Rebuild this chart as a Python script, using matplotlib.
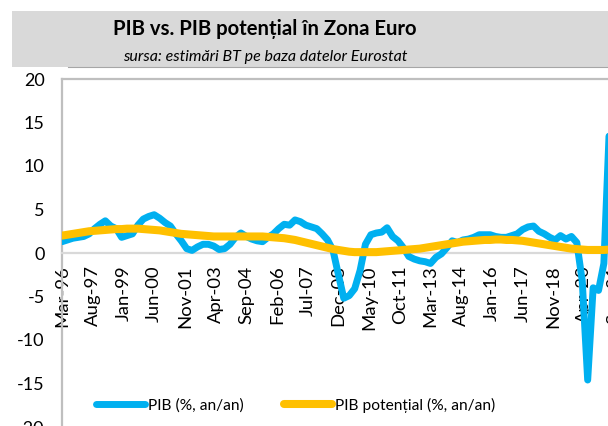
import matplotlib
matplotlib.use('Agg')
import matplotlib.pyplot as plt
import pandas as pd

plt.rcParams['font.family'] = ['Lato', 'DejaVu Sans']

BLUE = '#00B0F0'
GOLD = '#FFC000'

# quarterly, Q1-1996 .. Q2-2021
dates = pd.date_range('1996-03-01', '2021-06-01', freq='3MS')

pib = [1.3, 1.5, 1.7, 1.8,
       1.9, 2.2, 2.8, 3.3,
       3.7, 3.1, 2.8, 1.8,
       2.0, 2.2, 3.2, 3.9,
       4.2, 4.4, 4.0, 3.5,
       3.1, 2.2, 1.4, 0.5,
       0.3, 0.7, 1.0, 1.0,
       0.8, 0.4, 0.5, 1.0,
       1.8, 2.3, 1.9, 1.6,
       1.4, 1.3, 1.8, 2.2,
       2.8, 3.3, 3.2, 3.8,
       3.6, 3.2, 3.0, 2.8,
       2.2, 1.5, 0.3, -2.5,
       -5.2, -4.9, -4.1, -2.0,
       1.0, 2.1, 2.3, 2.4,
       2.9, 1.9, 1.4, 0.6,
       -0.4, -0.7, -0.9, -1.0,
       -1.2, -0.5, -0.1, 0.6,
       1.4, 1.2, 1.5, 1.6,
       1.8, 2.1, 2.1, 2.1,
       1.9, 1.8, 1.8, 2.0,
       2.2, 2.7, 3.0, 3.1,
       2.5, 2.2, 1.8, 1.5,
       2.0, 1.6, 1.9, 1.2,
       -3.2, -14.6, -4.0, -4.3,
       -1.2, 14.4]

pib_pot = [2.0, 2.1, 2.2, 2.3,
           2.4, 2.5, 2.55, 2.6,
           2.65, 2.7, 2.75, 2.75,
           2.8, 2.8, 2.8, 2.75,
           2.7, 2.65, 2.6, 2.5,
           2.4, 2.3, 2.2, 2.15,
           2.1, 2.05, 2.0, 1.95,
           1.9, 1.9, 1.9, 1.9,
           1.9, 1.9, 1.9, 1.9,
           1.9, 1.9, 1.85, 1.8,
           1.75, 1.7, 1.6, 1.5,
           1.35, 1.2, 1.05, 0.9,
           0.75, 0.6, 0.45, 0.35,
           0.25, 0.15, 0.1, 0.1,
           0.1, 0.1, 0.1, 0.15,
           0.2, 0.25, 0.3, 0.35,
           0.4, 0.45, 0.5, 0.6,
           0.7, 0.8, 0.9, 1.0,
           1.1, 1.2, 1.3, 1.35,
           1.4, 1.45, 1.5, 1.5,
           1.55, 1.55, 1.5, 1.5,
           1.45, 1.4, 1.3, 1.2,
           1.1, 1.0, 0.9, 0.8,
           0.7, 0.6, 0.5, 0.45,
           0.4, 0.35, 0.35, 0.35,
           0.35, 0.4]

tick_labels = ['Mar-96', 'Aug-97', 'Jan-99', 'Jun-00', 'Nov-01', 'Apr-03',
               'Sep-04', 'Feb-06', 'Jul-07', 'Dec-08', 'May-10', 'Oct-11',
               'Mar-13', 'Aug-14', 'Jan-16', 'Jun-17', 'Nov-18', 'Apr-20',
               'Sep-21']
tick_dates = pd.to_datetime(tick_labels, format='%b-%y')
y_ticks = [20, 15, 10, 5, 0, -5, -10, -15, -20]

fig = plt.figure(figsize=(6.08, 4.26), dpi=100)

# header band
fig.patches.append(plt.Rectangle((12/608, 1-67/426), 1, 56/426,
                                 transform=fig.transFigure,
                                 facecolor='#d9d9d9', edgecolor='none'))
fig.lines.append(plt.Line2D([68/608, 1], [1-67/426, 1-67/426],
                            transform=fig.transFigure, color='#a6a6a6', lw=0.8))
fig.text(265/608, 1-29/426, 'PIB vs. PIB potențial în Zona Euro',
         ha='center', va='center', fontsize=14.6, fontweight='bold')
fig.text(265/608, 1-57/426, 'sursa: estimări BT pe baza datelor Eurostat',
         ha='center', va='center', fontsize=11.5, style='italic')

ax = fig.add_axes([62/608, -1/426, 569/608, 348/426])
ax.plot(dates, pib, color=BLUE, lw=5, solid_capstyle='round',
        solid_joinstyle='round', label='PIB (%, an/an)', zorder=3)
ax.plot(dates, pib_pot, color=GOLD, lw=5.8, solid_capstyle='round',
        label='PIB potențial (%, an/an)', zorder=4)

ax.set_xlim(pd.Timestamp('1996-03-01'), pd.Timestamp('2022-06-01'))
ax.set_ylim(-20, 20)
ax.set_yticks(y_ticks)
ax.set_yticklabels([str(v) for v in y_ticks])
ax.set_xticks(tick_dates)
ax.set_xticklabels(tick_labels)
ax.tick_params(axis='both', length=0, colors='black')
ax.tick_params(axis='y', pad=12.5, labelsize=13)
ax.tick_params(axis='x', pad=9, labelrotation=90, labelsize=13.3)
for lab in ax.get_xticklabels():
    lab.set_ha('center')
    lab.set_va('top')

ax.spines['bottom'].set_position(('data', 0))
ax.spines['bottom'].set_color('#d9d9d9')
ax.spines['bottom'].set_linewidth(1.6)
for s in ['left', 'top']:
    ax.spines[s].set_color('#bfbfbf')
    ax.spines[s].set_linewidth(1.6)
ax.spines['right'].set_visible(False)

leg = ax.legend(loc='center', bbox_to_anchor=(234/569, 22/348), ncol=2,
                frameon=False, fontsize=11.2, handlelength=3.1,
                handletextpad=0.2, columnspacing=2.6)

fig.savefig('out.png', dpi=100)
